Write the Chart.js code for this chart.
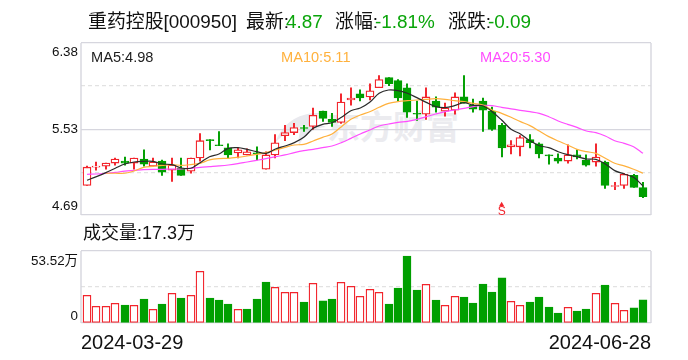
<!DOCTYPE html>
<html>
<head>
<meta charset="utf-8">
<script src="https://cdn.jsdelivr.net/npm/chart.js@4"></script>
<style>
    html, body { margin: 0; padding: 0; background: #fff; }
    #page { position: relative; width: 688px; height: 360px; overflow: hidden; font-family: "Liberation Sans", "Noto Sans CJK SC", sans-serif; color: #111; }
    #page span { position: absolute; white-space: nowrap; line-height: 1; }
    canvas { position: absolute; left: 0; }
    .head { font-size: 18.9px; top: 13px; }
    .up { color: #0aa50a; }
    .ma { font-size: 14.6px; top: 50px; }
    #wm { left: 327px; top: 111px; font-size: 33px; font-weight: 700; color: #ebebef; letter-spacing: 0; }
    svg { position: absolute; left: 274px; top: 110px; }
</style>
</head>
<body>
<div id="page">
    <svg width="54" height="38" viewBox="0 0 54 38"><path d="M1 33 C8 14 24 2 46 3 C38 8 35 12 34 17 C42 14 48 15 52 17 C40 18 30 24 25 36 C24 28 25 22 29 16 C18 19 8 25 1 33 Z" fill="#e9e9ee"/></svg>
    <span id="wm">东方财富</span>
    <canvas id="priceChart" width="688" height="232" style="top:0"></canvas>
    <canvas id="volChart" width="688" height="128" style="top:232px"></canvas>
    <span class="head" style="left:88px">重药控股[000950]</span>
    <span class="head" style="left:246px">最新:</span><span class="head up" style="left:286px">4.87</span>
    <span class="head" style="left:335px">涨幅:</span><span class="head up" style="left:375px">-1.81%</span>
    <span class="head" style="left:448px">涨跌:</span><span class="head up" style="left:488px">-0.09</span>
    <span class="ma" style="left:91px;color:#1c1c1c">MA5:4.98</span>
    <span class="ma" style="left:281px;color:#ffb13d">MA10:5.11</span>
    <span class="ma" style="left:480px;color:#ff4dff">MA20:5.30</span>
    <span style="left:83px;top:224px;font-size:18px">成交量:17.3万</span>
</div>
<script>
const dates = [
    '2024-03-29','2024-04-01','2024-04-02','2024-04-03','2024-04-08','2024-04-09','2024-04-10','2024-04-11','2024-04-12',
    '2024-04-15','2024-04-16','2024-04-17','2024-04-18','2024-04-19','2024-04-22','2024-04-23','2024-04-24','2024-04-25','2024-04-26',
    '2024-04-29','2024-04-30','2024-05-06','2024-05-07','2024-05-08','2024-05-09','2024-05-10','2024-05-13','2024-05-14','2024-05-15',
    '2024-05-16','2024-05-17','2024-05-20','2024-05-21','2024-05-22','2024-05-23','2024-05-24','2024-05-27','2024-05-28','2024-05-29',
    '2024-05-30','2024-05-31','2024-06-03','2024-06-04','2024-06-05','2024-06-06','2024-06-07','2024-06-11','2024-06-12','2024-06-13',
    '2024-06-14','2024-06-17','2024-06-18','2024-06-19','2024-06-20','2024-06-21','2024-06-24','2024-06-25','2024-06-26','2024-06-27','2024-06-28'
];
const opens = [4.98,5.16,5.17,5.20,5.22,5.20,5.24,5.17,5.22,5.13,5.15,5.12,5.25,5.43,5.38,5.35,5.30,5.28,5.30,5.14,
    5.28,5.47,5.50,5.55,5.56,5.71,5.63,5.60,5.82,5.88,5.85,5.94,6.04,6.01,5.94,5.69,5.68,5.81,5.71,5.72,
    5.85,5.77,5.81,5.71,5.57,5.36,5.36,5.43,5.39,5.28,5.25,5.22,5.28,5.23,5.21,5.21,4.97,4.98,5.08,4.96];
const closes = [5.16,5.17,5.20,5.24,5.20,5.25,5.19,5.21,5.11,5.18,5.08,5.25,5.42,5.42,5.37,5.28,5.33,5.31,5.29,5.28,
    5.40,5.50,5.55,5.54,5.67,5.64,5.60,5.80,5.84,5.84,5.91,6.02,5.98,5.84,5.70,5.68,5.85,5.75,5.74,5.85,
    5.79,5.73,5.72,5.53,5.35,5.38,5.45,5.40,5.29,5.27,5.22,5.28,5.26,5.18,5.26,4.98,4.98,5.09,4.96,4.87];
const highs = [5.17,5.21,5.20,5.25,5.26,5.25,5.33,5.25,5.23,5.25,5.25,5.25,5.49,5.43,5.51,5.39,5.35,5.34,5.36,5.31,
    5.48,5.57,5.59,5.57,5.74,5.71,5.69,5.88,5.94,5.92,5.98,6.06,6.04,6.02,5.98,5.81,5.94,5.85,5.79,5.89,
    6.06,5.83,5.84,5.75,5.59,5.42,5.47,5.48,5.40,5.28,5.29,5.38,5.33,5.28,5.39,5.22,5.01,5.10,5.09,5.01];
const lows = [4.98,5.13,5.14,5.18,5.18,5.14,5.17,5.17,5.08,5.02,5.08,5.10,5.22,5.33,5.37,5.25,5.25,5.28,5.23,5.14,
    5.25,5.42,5.48,5.51,5.53,5.61,5.56,5.59,5.77,5.81,5.82,5.94,5.96,5.81,5.65,5.62,5.63,5.70,5.66,5.68,
    5.79,5.70,5.51,5.52,5.26,5.29,5.27,5.35,5.25,5.19,5.20,5.20,5.24,5.17,5.17,4.95,4.94,4.95,4.96,4.86];
const ma5 = [5.031,5.067,5.106,5.149,5.191,5.211,5.217,5.217,5.191,5.185,5.152,5.149,5.204,5.263,5.289,5.345,5.352,5.335,5.312,5.296,
    5.339,5.368,5.401,5.453,5.542,5.581,5.597,5.650,5.715,5.741,5.797,5.886,5.918,5.912,5.886,5.843,5.797,5.755,5.745,5.764,
    5.794,5.768,5.764,5.705,5.623,5.532,5.486,5.420,5.371,5.352,5.312,5.283,5.263,5.240,5.237,5.191,5.126,5.093,5.060,4.975];
const ma10 = [null,null,5.100,5.100,5.100,5.122,5.158,5.168,5.178,5.185,5.178,5.185,5.198,5.231,5.244,5.247,5.257,5.270,5.286,5.303,
    5.329,5.355,5.378,5.384,5.417,5.453,5.486,5.558,5.630,5.673,5.705,5.748,5.787,5.804,5.813,5.820,5.827,5.833,5.827,5.813,
    5.804,5.787,5.771,5.722,5.689,5.650,5.607,5.568,5.515,5.460,5.417,5.378,5.335,5.312,5.296,5.247,5.198,5.172,5.139,5.100];
const ma20 = [5.090,5.093,5.100,5.109,5.122,5.129,5.136,5.139,5.139,5.142,5.142,5.149,5.158,5.165,5.172,5.181,5.194,5.211,5.227,5.244,
    5.263,5.280,5.303,5.322,5.335,5.352,5.368,5.401,5.443,5.486,5.525,5.565,5.584,5.601,5.610,5.630,5.656,5.682,5.705,5.722,
    5.738,5.755,5.768,5.764,5.748,5.732,5.718,5.705,5.689,5.656,5.614,5.581,5.551,5.515,5.499,5.466,5.420,5.394,5.361,5.296];
const volumes = [20.6,12.4,12.4,14.6,13.4,13.1,17.8,10.2,14.1,22.1,18.6,20.6,38.4,18.6,17.1,14.1,10.2,10.4,17.8,30.5,
    26.5,22.8,22.8,15.6,29.5,16.4,17.8,30.2,27.3,19.8,25.0,22.8,14.1,26.0,49.8,24.5,28.7,17.1,13.1,19.8,
    19.3,14.9,29.0,23.0,33.5,16.1,13.1,15.6,19.3,11.9,7.4,11.6,8.9,10.4,22.1,28.2,14.6,9.4,11.2,17.3];
// 1 = красный (полый) столбик объёма, 0 = зелёный
const volRising = [1,1,1,1,0,1,0,1,0,1,0,1,1,0,0,0,1,0,0,0,
    1,1,1,0,1,0,0,1,1,1,1,1,0,0,0,0,1,0,1,1,
    0,0,0,0,0,1,1,0,0,0,0,1,0,0,1,0,1,1,0,0];
const priceTicks = [4.69,5.11,5.53,5.96,6.38];
const priceTickLabels = [['4.69',''],'','5.53','',['','6.38']];
const volTicks = [0,26.76,53.52];
const volTickLabels = [['0',''],'',['','53.52万']];
const signalDates = ['2024-06-06'];
const signalPrices = [4.79];

const RED = '#f2242c', GREEN = '#009f00', FRAME = '#d6d6de', DASH = '#e2e2e2';
const FONT = '"Liberation Sans", "Noto Sans CJK SC", sans-serif';
const X_MIN = -0.64, X_MAX = 59.85;

// рамка графика
const framePlugin = {
    id: 'frame',
    afterDatasetsDraw(chart) {
        const a = chart.chartArea, c = chart.ctx;
        c.save();
        c.strokeStyle = FRAME;
        c.lineWidth = 1.4;
        c.beginPath();
        c.moveTo(a.left, a.top); c.lineTo(a.left, a.bottom);
        c.moveTo(a.right, a.top); c.lineTo(a.right, a.bottom);
        c.stroke();
        c.restore();
    }
};

// выравнивание свечей по целым пикселям
const snapPlugin = {
    id: 'snap',
    afterDatasetsUpdate(chart) {
        chart.data.datasets.forEach((ds, i) => {
            if (ds.type === 'line') return;
            chart.getDatasetMeta(i).data.forEach(el => { el.x = Math.round(el.x); });
        });
    }
};

// буква S под треугольником сигнала
const signalPlugin = {
    id: 'signal',
    afterDatasetsDraw(chart) {
        const idx = chart.data.datasets.findIndex(ds => ds.label === 'S');
        const c = chart.ctx;
        chart.getDatasetMeta(idx).data.forEach(pt => {
            c.save();
            c.fillStyle = RED;
            c.font = '12px ' + FONT;
            c.textAlign = 'center';
            c.textBaseline = 'middle';
            c.fillText('S', pt.x, pt.y + 7);
            c.restore();
        });
    }
};

// lineHeights сдвигают крайние подписи внутрь панели
function yScale(min, max, ticks, labels, lineHeights) {
    const isDashed = i => ticks.length > 3 ? i % 2 === 1 : i === 1;
    return {
        min: min,
        max: max,
        afterBuildTicks: axis => { axis.ticks = ticks.map(v => ({ value: v })); },
        afterFit: axis => { axis.width = 81; axis.paddingTop = 0; axis.paddingBottom = 0; },
        border: {
            display: false,
            dash: ctx => isDashed(ctx.index) ? [4, 3] : []
        },
        grid: {
            drawTicks: false,
            lineWidth: 1.2,
            color: ctx => isDashed(ctx.index) ? DASH : FRAME
        },
        ticks: {
            autoSkip: false,
            padding: 3,
            color: '#111',
            font: ctx => ({ family: FONT, size: 13.4, lineHeight: lineHeights[ctx.index] + 'px' }),
            callback: (v, i) => labels[i]
        }
    };
}

new Chart(document.getElementById('priceChart'), {
    data: {
        datasets: [
            {
                type: 'line', label: 'S', order: 0, showLine: false,
                data: signalDates.map((d, i) => ({ x: dates.indexOf(d), y: signalPrices[i] })),
                pointStyle: 'triangle', pointRadius: 3, backgroundColor: RED, borderColor: RED, borderWidth: 0
            },
            {
                type: 'line', label: 'MA5', order: 1, data: ma5.map((v, i) => ({ x: i, y: v })),
                borderColor: '#2a2a2a', borderWidth: 1.2, pointRadius: 0, tension: 0.35
            },
            {
                type: 'line', label: 'MA10', order: 2, data: ma10.map((v, i) => ({ x: i, y: v })),
                borderColor: '#ffb13d', borderWidth: 1.2, pointRadius: 0, tension: 0.35
            },
            {
                type: 'line', label: 'MA20', order: 3, data: ma20.map((v, i) => ({ x: i, y: v })),
                borderColor: '#ff4dff', borderWidth: 1.2, pointRadius: 0, tension: 0.35
            },
            {
                type: 'bar', label: '实体', order: 4, grouped: false, barThickness: 8, borderSkipped: false,
                data: opens.map((o, i) => ({ x: i, y: [o, closes[i]] })),
                backgroundColor: closes.map((c, i) => c >= opens[i] ? '#fff' : GREEN),
                borderColor: closes.map((c, i) => c >= opens[i] ? RED : GREEN),
                borderWidth: 1.3
            },
            {
                type: 'bar', label: '影线', order: 5, grouped: false, barThickness: 1.3,
                data: highs.map((h, i) => ({ x: i, y: [lows[i], h] })),
                backgroundColor: closes.map((c, i) => c >= opens[i] ? RED : GREEN),
                borderWidth: 0
            }
        ]
    },
    options: {
        responsive: false,
        animation: false,
        layout: { padding: { left: 0, right: 37, top: 43, bottom: 17 } },
        plugins: { legend: { display: false }, tooltip: { enabled: false } },
        scales: {
            x: { type: 'linear', display: false, offset: false, min: X_MIN, max: X_MAX },
            y: yScale(4.69, 6.38, priceTicks, priceTickLabels, [18, 18, 18, 18, 19])
        }
    },
    plugins: [snapPlugin, framePlugin, signalPlugin]
});

new Chart(document.getElementById('volChart'), {
    type: 'bar',
    data: {
        datasets: [{
            label: '成交量', grouped: false, barThickness: 8, borderSkipped: false,
            data: volumes.map((v, i) => ({ x: i, y: v })),
            backgroundColor: volRising.map(r => r ? '#fff' : GREEN),
            borderColor: volRising.map(r => r ? RED : GREEN),
            borderWidth: 1.3
        }]
    },
    options: {
        responsive: false,
        animation: false,
        layout: { padding: { left: 0, right: 37, top: 19, bottom: 0 } },
        plugins: { legend: { display: false }, tooltip: { enabled: false } },
        scales: {
            x: {
                type: 'linear', offset: false, min: X_MIN, max: X_MAX,
                afterBuildTicks: axis => { axis.ticks = [{ value: X_MIN }, { value: X_MAX }]; },
                afterFit: axis => { axis.height = 37; axis.paddingLeft = 0; axis.paddingRight = 0; },
                grid: { display: false },
                border: { display: false },
                ticks: {
                    align: 'inner', autoSkip: false, maxRotation: 0, padding: 0, color: '#111',
                    font: { family: FONT, size: 20 },
                    callback: (v, i) => i === 0 ? dates[0] : dates[dates.length - 1]
                }
            },
            y: yScale(0, 53.52, volTicks, volTickLabels, [14, 18, 20])
        }
    },
    plugins: [snapPlugin, framePlugin]
});
</script>
</body>
</html>
